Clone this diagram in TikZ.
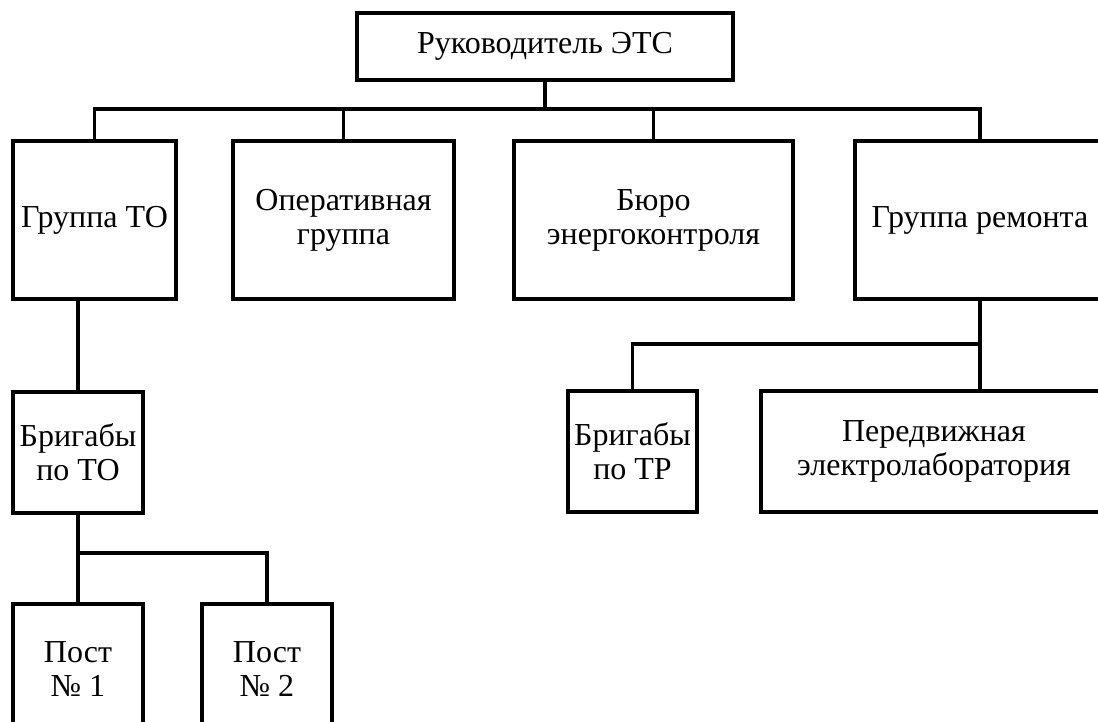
\documentclass[tikz,border=0pt]{standalone}
\usepackage{fontspec}
\setmainfont{Liberation Serif}
\begin{document}
\begin{tikzpicture}[x=1pt,y=-1pt,
  box/.style={draw,line width=3.2pt,rectangle,inner sep=0pt,outer sep=0pt,align=center,
    font=\fontsize{32}{34}\selectfont},
  link/.style={line width=3.2pt}]
\useasboundingbox (0,0) rectangle (1098,722);
\fill[white] (0,0) rectangle (1098,722);
\clip (0,0) rectangle (1098,722);
% level 0
\node[box,minimum width=376pt,minimum height=67pt] (top) at (545,46.5) {Руководитель ЭТС};
% level 1
\node[box,minimum width=163pt,minimum height=158pt] (grTO) at (94.5,220) {Группа ТО};
\node[box,minimum width=221pt,minimum height=158pt] (oper) at (343.5,220) {Оперативная\\группа};
\node[box,minimum width=279pt,minimum height=158pt] (buro) at (653.5,220) {Бюро\\энергоконтроля};
\node[box,minimum width=250pt,minimum height=158pt] (grRem) at (980,220) {Группа ремонта};
% level 2
\node[box,minimum width=130pt,minimum height=121pt] (brigTO) at (78,452.5) {Бригабы\\по ТО};
\node[box,minimum width=129pt,minimum height=121pt] (brigTR) at (632.5,451.5) {Бригабы\\по ТР};
\node[box,minimum width=346pt,minimum height=121pt] (pered) at (934,451.5) {Передвижная\\электролаборатория};
% level 3
\node[box,minimum width=130pt,minimum height=131pt] (post1) at (78,669.5) {Пост\\№ 1};
\node[box,minimum width=130pt,minimum height=131pt] (post2) at (267,669.5) {Пост\\№ 2};
% connectors top
\path (top.south) ++(0,29) coordinate (bus1);
\draw[link] (top.south) -- (bus1);
\draw[link] (grTO.north) |- (bus1) -| (grRem.north);
\draw[link] (oper.north) -- (oper.north |- bus1);
\draw[link] (buro.north) -- (buro.north |- bus1);
% left branch
\draw[link] (grTO.south -| brigTO.north) -- (brigTO.north);
\path (brigTO.south) ++(0,40) coordinate (bus2);
\draw[link] (brigTO.south) -- (post1.north);
\draw[link] (bus2) -| (post2.north);
% right branch
\draw[link] (grRem.south) -- (grRem.south |- pered.north);
\path (grRem.south) ++(0,45) coordinate (bus3);
\draw[link] (bus3) -| (brigTR.north);
\end{tikzpicture}
\end{document}
